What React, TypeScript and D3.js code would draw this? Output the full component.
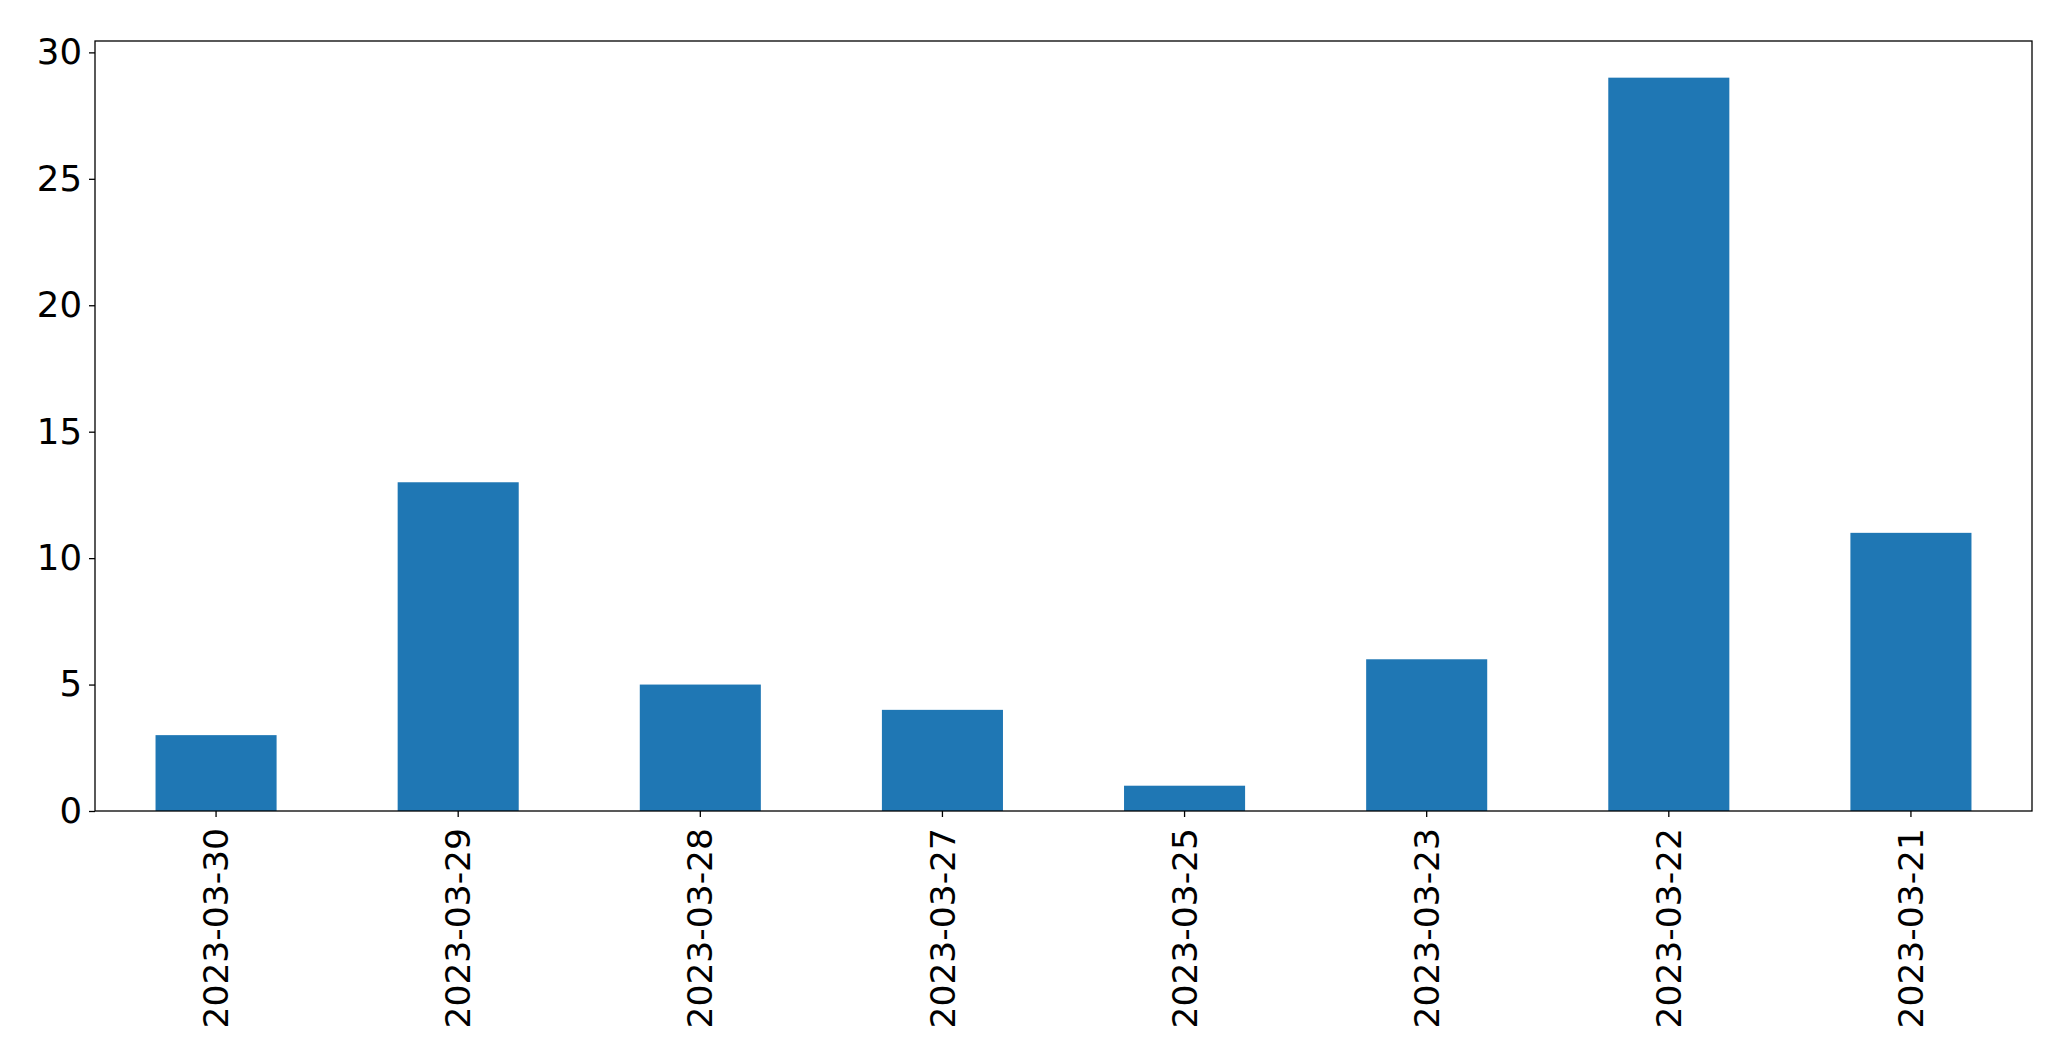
// @ts-nocheck
import React, { useRef, useEffect } from 'react';
import * as d3 from 'd3';

// dates in the order they appear on the x axis
const dates = ["2023-03-30", "2023-03-29", "2023-03-28", "2023-03-27", "2023-03-25", "2023-03-23", "2023-03-22", "2023-03-21"];
const counts = [3, 13, 5, 4, 1, 6, 29, 11];
const yTicks = [0, 5, 10, 15, 20, 25, 30];

const W = 2071;
const H = 1063;
const margin = { top: 41, right: 39, bottom: 252, left: 95 };
const barColor = "#1f77b4";
const font = "DejaVu Sans, sans-serif";

const App = () => {
    const ref = useRef<SVGSVGElement | null>(null);

    useEffect(() => {
        const svg = d3.select(ref.current);
        svg.selectAll("*").remove();

        const innerW = W - margin.left - margin.right;
        const innerH = H - margin.top - margin.bottom;

        const x = d3.scaleBand().domain(dates).range([0, innerW]).paddingInner(0.5).paddingOuter(0.25);
        const y = d3.scaleLinear().domain([0, d3.max(counts) * 1.05]).range([innerH, 0]);

        const g = svg.append("g").attr("transform", `translate(${margin.left},${margin.top})`);

        g.selectAll("rect")
            .data(counts)
            .enter().append("rect")
            .attr("x", (d, i) => x(dates[i]))
            .attr("width", x.bandwidth())
            .attr("y", d => y(d))
            .attr("height", d => innerH - y(d))
            .attr("fill", barColor);

        // y axis
        const yAxis = g.append("g").call(d3.axisLeft(y).tickValues(yTicks).tickSize(6).tickPadding(7).tickFormat(d3.format("d")));
        yAxis.select(".domain").remove();
        yAxis.selectAll("text").attr("font-size", 35.5).attr("font-family", font).attr("fill", "#000");
        yAxis.selectAll("line").attr("stroke", "#000").attr("stroke-width", 1.3);

        // x axis
        const xAxis = g.append("g").attr("transform", `translate(0,${innerH})`)
            .call(d3.axisBottom(x).tickSize(6).tickPadding(0));
        xAxis.select(".domain").remove();
        xAxis.selectAll("line").attr("stroke", "#000").attr("stroke-width", 1.3);
        xAxis.selectAll("text")
            .attr("font-size", 34.5)
            .attr("font-family", font)
            .attr("fill", "#000")
            .attr("text-anchor", "end")
            .attr("dy", "0.35em")
            .attr("transform", "translate(0,17) rotate(-90)")
            .attr("y", 0)
            .attr("x", 0);

        // frame
        g.append("rect")
            .attr("width", innerW)
            .attr("height", innerH)
            .attr("fill", "none")
            .attr("stroke", "#000")
            .attr("stroke-width", 1.3);
    }, []);

    return (
        <svg ref={ref} width={W} height={H}
            style={{ position: "absolute", left: 0, top: 0, background: "#fff" }} />
    );
};

export default App;
